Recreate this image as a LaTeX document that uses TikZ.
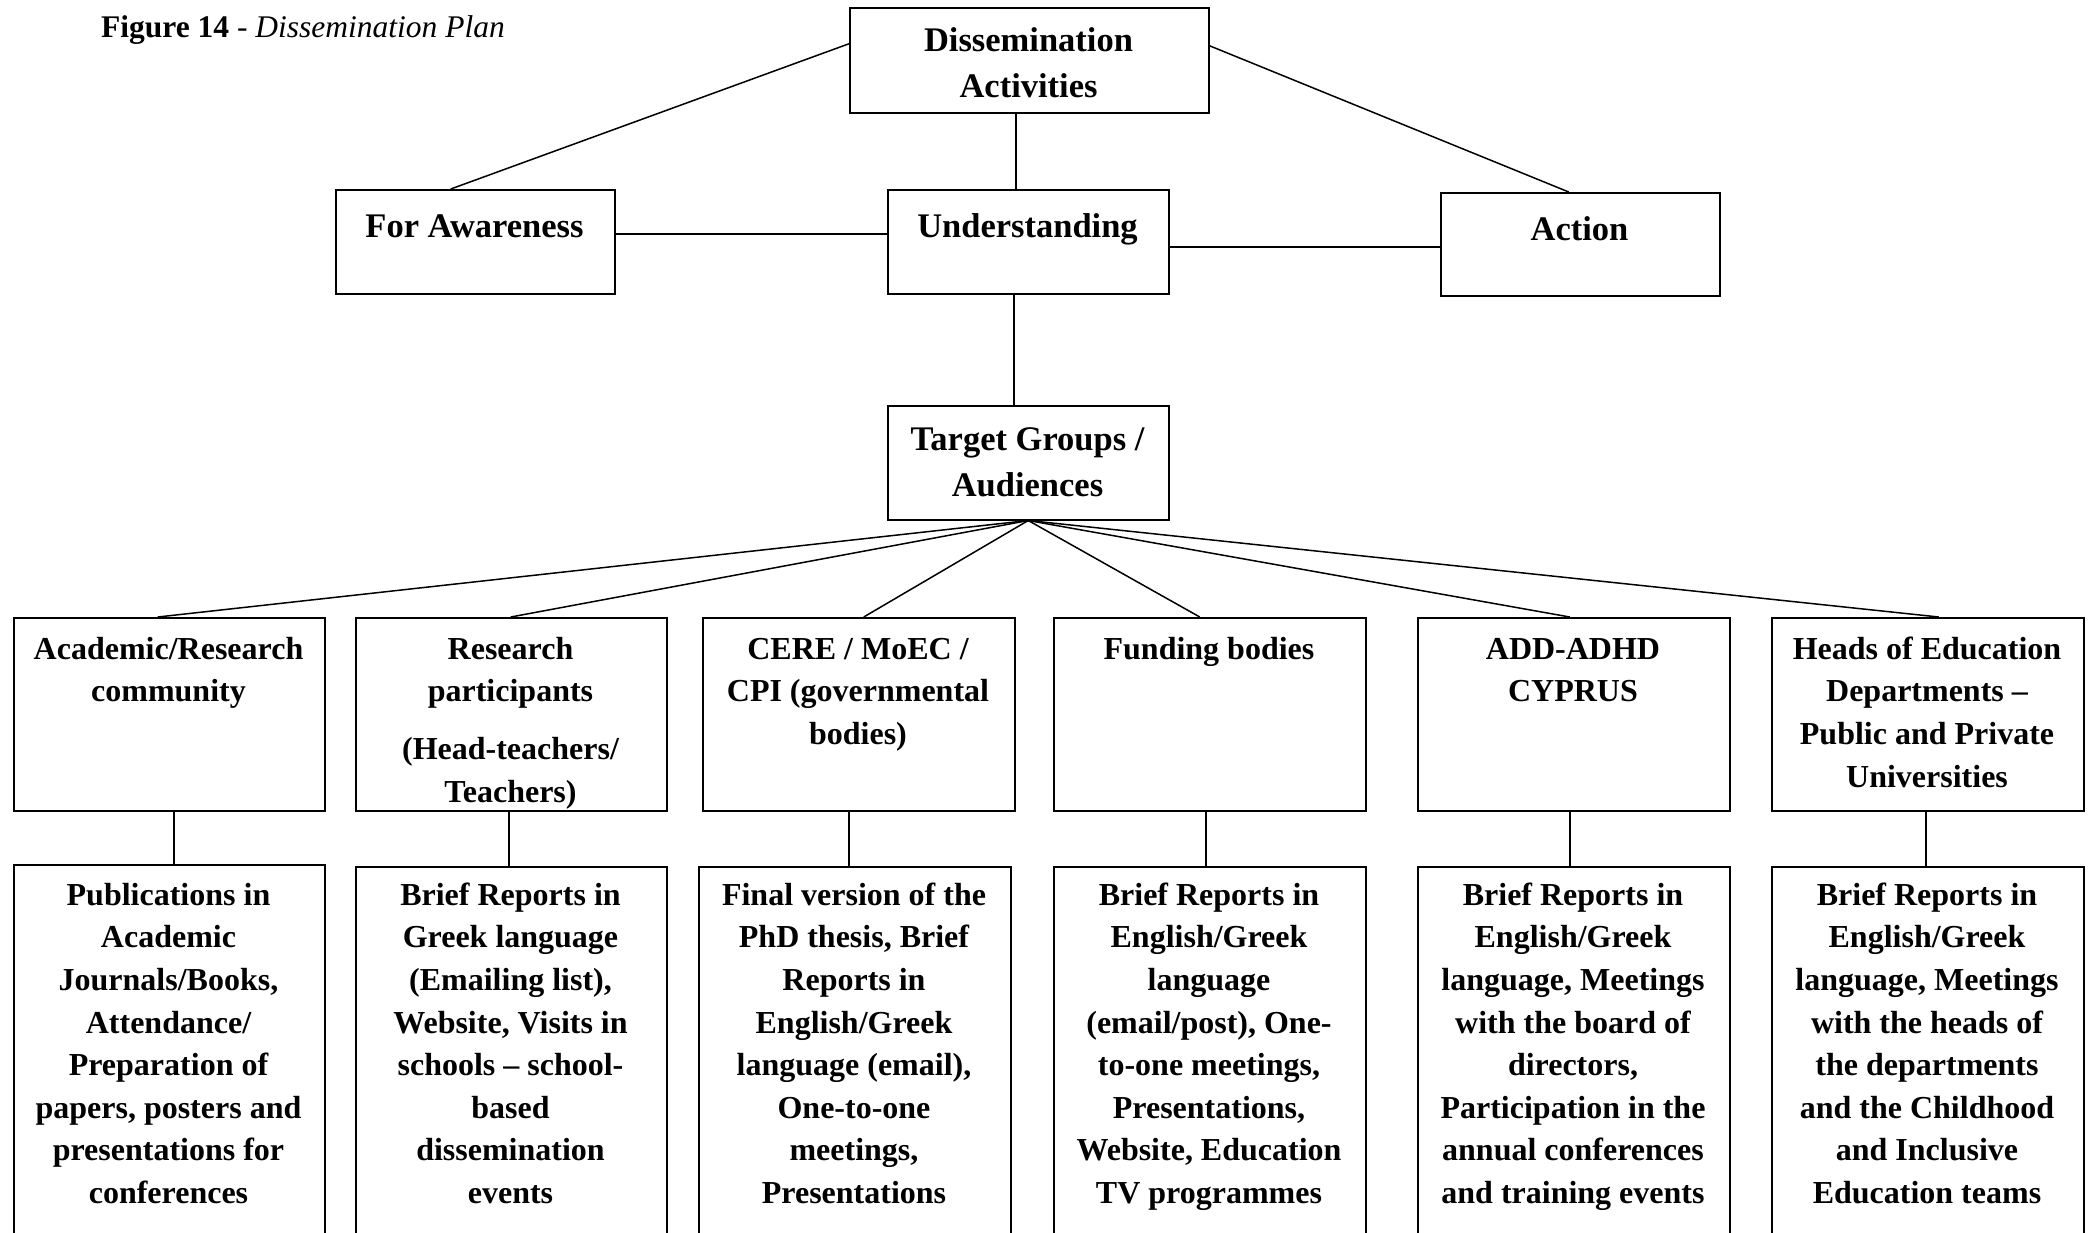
\documentclass[tikz,border=0pt]{standalone}
\usepackage{fontspec}
\setmainfont{Liberation Serif}
\usetikzlibrary{calc}
\begin{document}
\begin{tikzpicture}[x=1pt,y=-1pt,
  box/.style={draw=black, line width=1.5pt, rectangle, inner sep=0pt, anchor=north west},
  conn/.style={draw=black, line width=1.5pt},
  toptxt/.style={anchor=north, align=center, inner sep=0pt, font=\fontsize{34.5}{46}\selectfont\bfseries},
  rowtxt/.style={anchor=north, align=center, inner sep=0pt, font=\fontsize{32}{42.65}\selectfont\bfseries},
]
\useasboundingbox (0,0) rectangle (2090,1232);
\clip (0,0) rectangle (2090,1232);

% title
\node[anchor=base west, inner sep=0pt, font=\fontsize{31.5}{38}\selectfont] (title) at (101,37) {\textbf{Figure 14} - \textit{Dissemination Plan}};

% top level boxes
\node[box, minimum width=359pt, minimum height=105pt] (dis) at (849,7) {};
\node[box, minimum width=279pt, minimum height=104pt] (fa) at (335,189) {};
\node[box, minimum width=281pt, minimum height=104pt] (und) at (887,189) {};
\node[box, minimum width=279pt, minimum height=103pt] (act) at (1440,192) {};
\node[box, minimum width=281pt, minimum height=114pt] (tg) at (887,405) {};

\node[toptxt] (tdis) at (1028.5,19) {\strut Dissemination\\Activities};
\node[toptxt] (tfa) at (474.5,205) {\strut For Awareness};
\node[toptxt] (tund) at (1027.5,205) {\strut Understanding};
\node[toptxt] (tact) at (1579.5,208) {\strut Action};
\node[toptxt] (ttg) at (1027.5,418) {\strut Target Groups /\\Audiences};

% row 3 boxes
\node[box, minimum width=311pt, minimum height=193pt] (ac) at (13,617) {};
\node[box, minimum width=311pt, minimum height=193pt] (rp) at (355,617) {};
\node[box, minimum width=312pt, minimum height=193pt] (ce) at (702,617) {};
\node[box, minimum width=312pt, minimum height=193pt] (fb) at (1053,617) {};
\node[box, minimum width=312pt, minimum height=193pt] (ad) at (1417,617) {};
\node[box, minimum width=312pt, minimum height=193pt] (he) at (1771,617) {};

\node[rowtxt] (tac) at (168.5,629) {\strut Academic/Research\\community};
\node[rowtxt] (trp) at (510.5,629) {\strut Research\\participants\\[15pt](Head-teachers/\\Teachers)};
\node[rowtxt] (tce) at (858,629) {\strut CERE / MoEC /\\CPI (governmental\\bodies)};
\node[rowtxt] (tfb) at (1209,629) {\strut Funding bodies};
\node[rowtxt] (tad) at (1573,629) {\strut ADD-ADHD\\CYPRUS};
\node[rowtxt] (the) at (1927,629) {\strut Heads of Education\\Departments –\\Public and Private\\Universities};

% row 4 boxes (run past the bottom edge)
\node[box, minimum width=311pt, minimum height=420pt] (pub) at (13,864) {};
\node[box, minimum width=311pt, minimum height=420pt] (br) at (355,866) {};
\node[box, minimum width=312pt, minimum height=420pt] (fv) at (698,866) {};
\node[box, minimum width=312pt, minimum height=420pt] (fr) at (1053,866) {};
\node[box, minimum width=312pt, minimum height=420pt] (ar) at (1417,866) {};
\node[box, minimum width=312pt, minimum height=420pt] (hr) at (1771,866) {};

\node[rowtxt] (tpub) at (168.5,875) {\strut Publications in\\Academic\\Journals/Books,\\Attendance/\\Preparation of\\papers, posters and\\presentations for\\conferences};
\node[rowtxt] (tbr) at (510.5,875) {\strut Brief Reports in\\Greek language\\(Emailing list),\\Website, Visits in\\schools – school-\\based\\dissemination\\events};
\node[rowtxt] (tfv) at (854,875) {\strut Final version of the\\PhD thesis, Brief\\Reports in\\English/Greek\\language (email),\\One-to-one\\meetings,\\Presentations};
\node[rowtxt] (tfr) at (1209,875) {\strut Brief Reports in\\English/Greek\\language\\(email/post), One-\\to-one meetings,\\Presentations,\\Website, Education\\TV programmes};
\node[rowtxt] (tar) at (1573,875) {\strut Brief Reports in\\English/Greek\\language, Meetings\\with the board of\\directors,\\Participation in the\\annual conferences\\and training events};
\node[rowtxt] (thr) at (1927,875) {\strut Brief Reports in\\English/Greek\\language, Meetings\\with the heads of\\the departments\\and the Childhood\\and Inclusive\\Education teams};

% connectors top
\draw[conn] ($(dis.west)+(0,-16.5)$) -- ($(fa.north)+(-24.5,0)$);
\draw[conn] ($(dis.east)+(0,-14.5)$) -- ($(act.north)+(-11.5,0)$);
\coordinate (c1) at ($(dis.south)+(-13.5,0)$);
\draw[conn] (c1) -- (c1 |- und.north);
\coordinate (c2) at ($(fa.east)+(0,-8)$);
\draw[conn] (c2) -- (c2 -| und.west);
\coordinate (c3) at ($(und.east)+(0,5)$);
\draw[conn] (c3) -- (c3 -| act.west);
\coordinate (c4) at ($(und.south)+(-14.5,0)$);
\draw[conn] (c4) -- (c4 |- tg.north);

% fan-out from target groups
\draw[conn] (tg.south) -- ($(ac.north)+(-11.5,0)$);
\draw[conn] (tg.south) -- ($(rp.north)+(-0.5,0)$);
\draw[conn] (tg.south) -- ($(ce.north)+(5,0)$);
\draw[conn] (tg.south) -- ($(fb.north)+(-10,0)$);
\draw[conn] (tg.south) -- ($(ad.north)+(-4,0)$);
\draw[conn] (tg.south) -- ($(he.north)+(11,0)$);

% verticals row 3 -> row 4
\coordinate (v1) at ($(ac.south)+(4.5,0)$);
\draw[conn] (v1) -- (v1 |- pub.north);
\coordinate (v2) at ($(rp.south)+(-2.5,0)$);
\draw[conn] (v2) -- (v2 |- br.north);
\coordinate (v3) at ($(ce.south)+(-10,0)$);
\draw[conn] (v3) -- (v3 |- fv.north);
\coordinate (v4) at ($(fb.south)+(-4,0)$);
\draw[conn] (v4) -- (v4 |- fr.north);
\coordinate (v5) at ($(ad.south)+(-4,0)$);
\draw[conn] (v5) -- (v5 |- ar.north);
\coordinate (v6) at ($(he.south)+(-2,0)$);
\draw[conn] (v6) -- (v6 |- hr.north);
\end{tikzpicture}
\end{document}
